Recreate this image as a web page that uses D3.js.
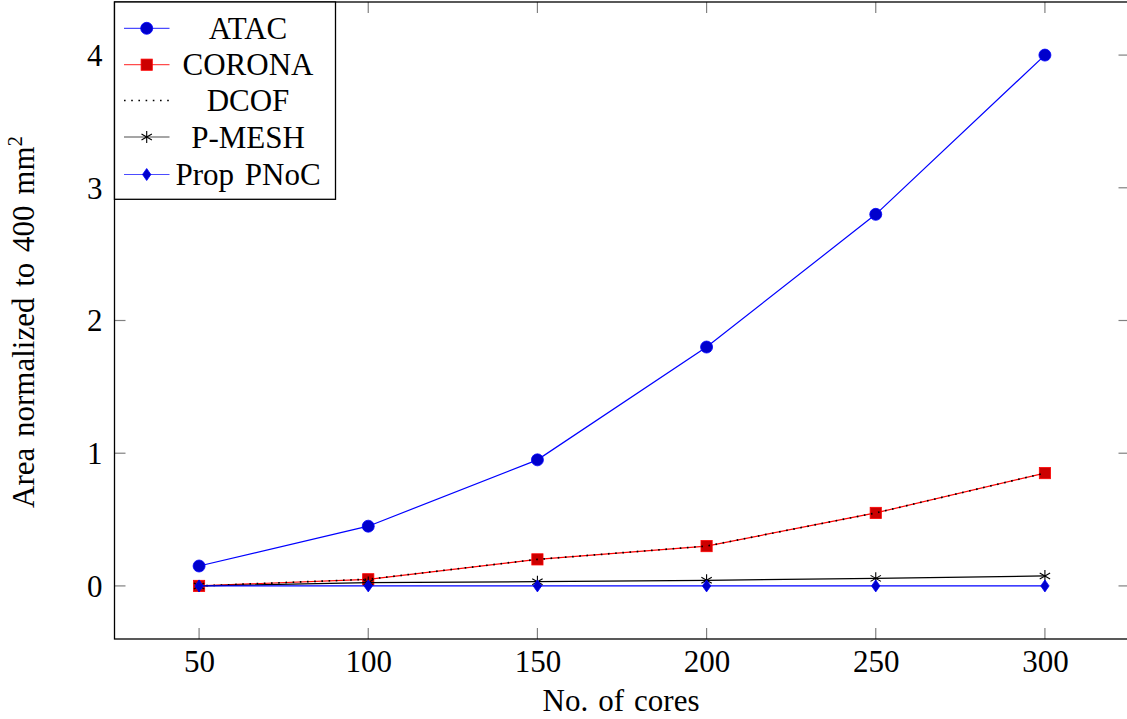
<!DOCTYPE html>
<html>
<head>
<meta charset="utf-8">
<script src="https://cdn.jsdelivr.net/npm/d3@7"></script>
<style>
  html, body { margin: 0; padding: 0; background: #fff; }
  svg { display: block; }
  text { font-family: "Liberation Serif", "Times New Roman", serif; fill: #000; }
</style>
</head>
<body>
<svg id="chart" width="1127" height="719"></svg>
<script>
// ---- data ----
const cores = [50, 100, 150, 200, 250, 300];
const atac = [0.15, 0.45, 0.95, 1.8, 2.8, 4.0];
const corona = [0, 0.05, 0.2, 0.3, 0.55, 0.85];
const dcof = [0, 0.05, 0.2, 0.3, 0.55, 0.85];
const pmesh = [0, 0.025, 0.032, 0.042, 0.057, 0.075];
const propPnoc = [0, 0, 0, 0, 0, 0];
const xTicks = [50, 100, 150, 200, 250, 300];
const yTicks = [0, 1, 2, 3, 4];
const seriesNames = ["ATAC", "CORONA", "DCOF", "P-MESH", "Prop PNoC"];
const xLabel = "No. of cores";
const yLabel = "Area normalized to 400 mm";

const series = [
  { name: seriesNames[0], values: atac, color: "#0000ff", fill: "#0000cc", mark: "circle", dash: null },
  { name: seriesNames[1], values: corona, color: "#ff0000", fill: "#cc0000", mark: "square", dash: null },
  { name: seriesNames[2], values: dcof, color: "#000000", fill: "#000000", mark: "none", dash: "1.6,5.6" },
  { name: seriesNames[3], values: pmesh, color: "#000000", fill: "#000000", mark: "star", dash: null },
  { name: seriesNames[4], values: propPnoc, color: "#0000ff", fill: "#0000cc", mark: "diamond", dash: null }
];

const svg = d3.select("#chart");
const L = 114.5, R = 1129.5, T = 2, B = 639;
const x = d3.scaleLinear().domain([25, 325]).range([L, R]);
const y = d3.scaleLinear().domain([-0.4, 4.4]).range([B, T]);
const FS = 31;
const FF = "Liberation Serif";

// ticks (inward, grey, all four sides)
const tickLen = 11;
const g = svg.append("g");
xTicks.forEach(v => {
  g.append("line").attr("x1", x(v)).attr("x2", x(v)).attr("y1", B).attr("y2", B - tickLen)
    .attr("stroke", "#808080").attr("stroke-width", 1.2);
  g.append("line").attr("x1", x(v)).attr("x2", x(v)).attr("y1", T).attr("y2", T + tickLen)
    .attr("stroke", "#808080").attr("stroke-width", 1.2);
});
yTicks.forEach(v => {
  g.append("line").attr("x1", L).attr("x2", L + tickLen).attr("y1", y(v)).attr("y2", y(v))
    .attr("stroke", "#808080").attr("stroke-width", 1.2);
  g.append("line").attr("x1", R).attr("x2", R - tickLen).attr("y1", y(v)).attr("y2", y(v))
    .attr("stroke", "#808080").attr("stroke-width", 1.2);
});

// axis frame
svg.append("rect").attr("x", L).attr("y", T).attr("width", R - L).attr("height", B - T)
  .attr("fill", "none").attr("stroke", "#000").attr("stroke-width", 1.3);

// tick labels via d3 axes (no domain/tick lines)
const xAxis = svg.append("g").attr("transform", `translate(0,${B})`)
  .call(d3.axisBottom(x).tickValues(xTicks).tickSize(0).tickPadding(0).tickFormat(d3.format("d")));
xAxis.select(".domain").remove();
xAxis.selectAll("text").attr("font-size", FS).attr("font-family", FF)
  .attr("dy", null).attr("y", 33).attr("fill", "#000");

const yAxis = svg.append("g").attr("transform", `translate(${L},0)`)
  .call(d3.axisLeft(y).tickValues(yTicks).tickSize(0).tickPadding(0).tickFormat(d3.format("d")));
yAxis.select(".domain").remove();
yAxis.selectAll("text").attr("font-size", FS).attr("font-family", FF)
  .attr("x", -12).attr("dy", "0.33em").attr("fill", "#000");

// axis titles
svg.append("text").attr("x", (L + R) / 2 - 1).attr("y", 711).attr("text-anchor", "middle")
  .attr("font-size", FS).attr("word-spacing", 2.3).text(xLabel);
const yl = svg.append("text").attr("transform", `translate(34,322) rotate(-90)`)
  .attr("text-anchor", "middle").attr("font-size", FS).attr("word-spacing", 3);
yl.append("tspan").text(yLabel);
yl.append("tspan").attr("font-size", 21).attr("dy", -12).text("2");

// markers
function drawMark(sel, type, cx, cy, s) {
  if (type === "circle") {
    sel.append("circle").attr("cx", cx).attr("cy", cy).attr("r", 6)
      .attr("fill", s.fill).attr("stroke", s.color).attr("stroke-width", 0.8);
  } else if (type === "square") {
    sel.append("rect").attr("x", cx - 5.6).attr("y", cy - 5.6).attr("width", 11.2).attr("height", 11.2)
      .attr("fill", s.fill).attr("stroke", s.color).attr("stroke-width", 0.8);
  } else if (type === "diamond") {
    sel.append("path").attr("d", `M${cx},${cy - 6}L${cx + 4.2},${cy}L${cx},${cy + 6}L${cx - 4.2},${cy}Z`)
      .attr("fill", s.fill).attr("stroke", s.color).attr("stroke-width", 0.8);
  } else if (type === "star") {
    const r = 6;
    let d = "";
    for (let k = 0; k < 3; k++) {
      const a = -Math.PI / 2 + k * Math.PI / 3;
      d += `M${cx + r * Math.cos(a)},${cy + r * Math.sin(a)}L${cx - r * Math.cos(a)},${cy - r * Math.sin(a)}`;
    }
    sel.append("path").attr("d", d).attr("stroke", s.color).attr("stroke-width", 1.1).attr("fill", "none");
  }
}

const line = d3.line().x(d => x(d[0])).y(d => y(d[1]));
series.forEach(s => {
  const pts = cores.map((c, i) => [c, s.values[i]]);
  const sg = svg.append("g");
  sg.append("path").attr("d", line(pts)).attr("fill", "none").attr("stroke", s.color)
    .attr("stroke-width", s.dash ? 1.7 : 1.2).attr("stroke-dasharray", s.dash);
  pts.forEach(p => drawMark(sg, s.mark, x(p[0]), y(p[1]), s));
});

// legend
const lg = svg.append("g");
lg.append("rect").attr("x", L).attr("y", T).attr("width", 335.5 - L).attr("height", 199.3 - T)
  .attr("fill", "#fff").attr("stroke", "#000").attr("stroke-width", 1.3);
const rowY = [28.3, 64.7, 100.5, 137, 174.5];
series.forEach((s, i) => {
  const cy = rowY[i];
  lg.append("line").attr("x1", 124).attr("x2", 169.5).attr("y1", cy).attr("y2", cy)
    .attr("stroke", s.color).attr("stroke-width", s.dash ? 1.7 : 1.2)
    .attr("stroke-dasharray", s.dash).attr("stroke-opacity", s.dash ? 1 : 0.7);
  drawMark(lg, s.mark, 146.7, cy, s);
  lg.append("text").attr("x", 248).attr("y", cy + 10.5).attr("text-anchor", "middle")
    .attr("font-size", FS).attr("word-spacing", 3).text(s.name);
});
</script>
</body>
</html>
